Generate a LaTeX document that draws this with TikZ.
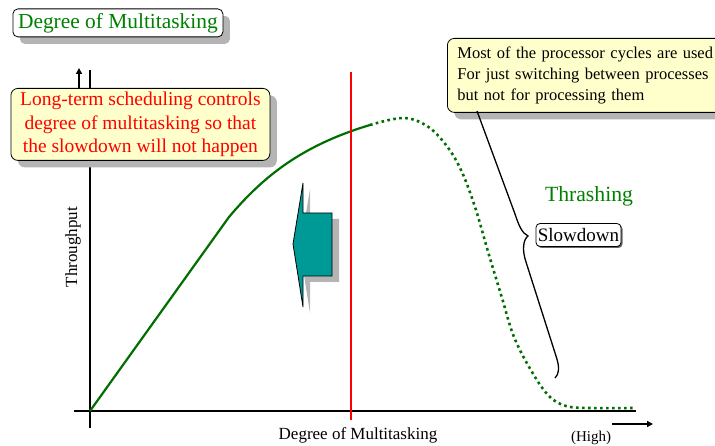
\documentclass[tikz,border=0pt]{standalone}
\usepackage{fontspec}
\setmainfont{Liberation Serif}
\usetikzlibrary{shadows,arrows.meta}
\definecolor{calloutfill}{HTML}{FFFFCC}
\definecolor{curvegreen}{HTML}{006E00}
\definecolor{titlegreen}{HTML}{008000}
\definecolor{tealc}{HTML}{009A96}
\definecolor{shadowgray}{HTML}{B4B4B4}
\tikzset{
  bigshadow/.style={drop shadow={shadow xshift=7pt, shadow yshift=-7pt, fill=shadowgray, opacity=1}},
  smallshadow/.style={drop shadow={shadow xshift=1.5pt, shadow yshift=-1.5pt, fill=black!60, opacity=1}},
  callout/.style={draw=black, line width=0.8pt, rounded corners=7pt, fill=calloutfill, bigshadow},
  titlebox/.style={draw=black, line width=0.8pt, rounded corners=5pt, fill=white, bigshadow, inner sep=0pt, text=titlegreen},
  slowbox/.style={draw=black, line width=0.8pt, rounded corners=4pt, fill=white, smallshadow, inner sep=0pt},
  axisline/.style={line width=2.2pt, black},
  axisarrow/.style={line width=1.8pt, black, -{Triangle[length=6pt,width=6pt]}},
  solidcurve/.style={line width=2.2pt, curvegreen},
  dotcurve/.style={line width=2.6pt, curvegreen, dash pattern=on 2.6pt off 3.4pt},
  redline/.style={line width=2.2pt, red},
  bracecurve/.style={line width=1.3pt, black},
}
\begin{document}
\begin{tikzpicture}[x=1pt,y=-1pt]
\useasboundingbox (0,0) rectangle (715,446);

% axes
\coordinate (O) at (90,411);
\coordinate (ytop) at (90,70);
\coordinate (ybot) at (90,428);
\coordinate (xleft) at (74,411);
\coordinate (xright) at (636,411);
\draw[line width=1.6pt] (ytop) -- (ybot);
\draw[axisline] (xleft) -- (xright);
\coordinate (ua1) at (79,95);
\coordinate (ua2) at (79,68);
\draw[axisarrow] (ua1) -- (ua2);
\coordinate (ra1) at (612,424);
\coordinate (ra2) at (653,424);
\draw[axisarrow] (ra1) -- (ra2);

% labels on axes
\node[font=\fontsize{17}{20}\selectfont] (xlabel) at (358,435) {Degree of Multitasking};
\node[font=\fontsize{15}{18}\selectfont] (high) at (591,438) {(High)};
\node[font=\fontsize{17}{20}\selectfont, rotate=90] (ylabel) at (73,247) {Throughput};

% throughput curve
\coordinate (kink) at (229,217);
\coordinate (split) at (370,125);
\draw[solidcurve] (O) -- (kink) .. controls (262,178) and (300,146) .. (split);
\draw[dotcurve] plot[smooth, tension=0.6] coordinates {(370,125) (403,118) (427,126) (446,145) (461,170) (475,207) (489,255) (502,298) (514,337) (532,372) (549,396) (566,406) (590,408) (634,408)};

% red limit line
\coordinate (r1) at (351,72);
\coordinate (r2) at (351,420);
\draw[redline] (r1) -- (r2);

% block arrow (left)
\fill[shadowgray] (300,250) -- (310,189) -- (310,219) -- (339,219) -- (339,282) -- (310,282) -- (310,313) -- cycle;
\filldraw[fill=tealc, draw=black, line width=0.8pt, line join=miter] (293,244) -- (303,183) -- (303,213) -- (332,213) -- (332,276) -- (303,276) -- (303,307) -- cycle;

% title
\node[titlebox, anchor=north west, minimum width=210pt, minimum height=28pt, font=\fontsize{21.4}{24}\selectfont] (title) at (12.5,8.5) {Degree of Multitasking};

% red callout
\node[callout, anchor=north west, minimum width=259pt, minimum height=72pt, align=center, text=red, inner sep=0pt, font=\fontsize{19.5}{23.5}\selectfont] (longterm) at (10.5,88) {Long-term scheduling controls\\degree of multitasking so that\\the slowdown will not happen};

% top-right callout
\node[callout, anchor=north west, minimum width=290pt, minimum height=74pt, text width=270pt, align=left, inner xsep=7pt, inner ysep=0pt, font=\fontsize{16.5}{20.7}\selectfont] (cycles) at (447,38) {Most of the processor cycles are used\\For just switching between processes\\but not for processing them};

% thrashing / slowdown
\node[text=titlegreen, font=\fontsize{21.7}{25}\selectfont] (thrash) at (589,196) {Thrashing};
\node[slowbox, minimum width=85pt, minimum height=23pt, font=\fontsize{19}{22}\selectfont] (slow) at (578.5,235) {Slowdown};

% brace
\coordinate (b0) at (477,111);
\coordinate (btip) at (528,236);
\coordinate (bend) at (555,378);
\draw[bracecurve] (b0) -- (515,214) .. controls (519,226) and (522,233) .. (btip)
  .. controls (523,240) and (522,250) .. (526,262) -- (556,356) .. controls (560,368) and (559,374) .. (bend);
\end{tikzpicture}
\end{document}
